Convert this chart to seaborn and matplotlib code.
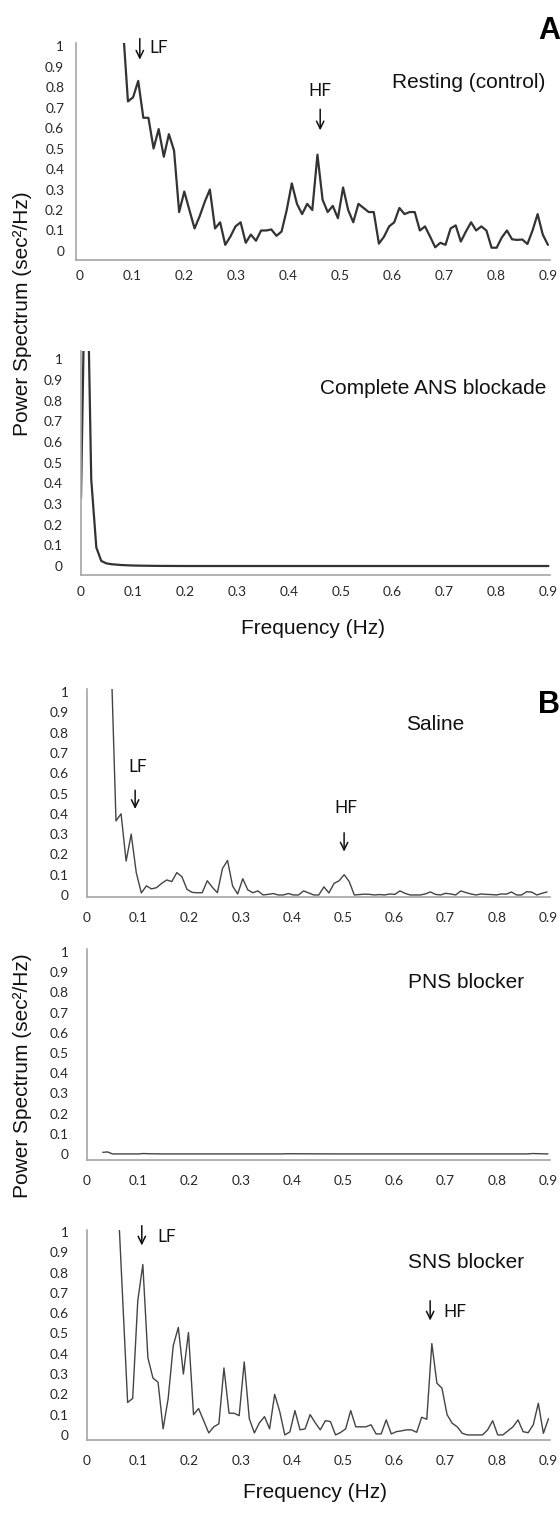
import numpy as np
import pandas as pd
import matplotlib
matplotlib.use('Agg')
import matplotlib.pyplot as plt
import seaborn as sns

# values (power, sec^2/Hz)
power_rest = [1.1, 0.73, 0.75, 0.83, 0.65, 0.65, 0.50, 0.595, 0.46, 0.57,
              0.49, 0.19, 0.29, 0.20, 0.11, 0.17, 0.24, 0.30, 0.11, 0.14,
              0.03, 0.07, 0.12, 0.14, 0.04, 0.08, 0.05, 0.10, 0.10, 0.105,
              0.074, 0.095, 0.2, 0.33, 0.23, 0.18, 0.23, 0.20, 0.47, 0.25,
              0.19, 0.22, 0.16, 0.31, 0.20, 0.14, 0.23, 0.21, 0.19, 0.19,
              0.036, 0.07, 0.12, 0.14, 0.21, 0.18, 0.19, 0.19, 0.10, 0.12,
              0.07, 0.018, 0.04, 0.03, 0.11, 0.125, 0.046, 0.095, 0.14, 0.10,
              0.12, 0.10, 0.016, 0.016, 0.066, 0.10, 0.057, 0.054, 0.056, 0.034,
              0.1, 0.18, 0.08, 0.03]
freq_rest = np.round(0.0824 + 0.00985 * np.arange(len(power_rest)), 4)

freq_ans = [0, 0.0098, 0.0197, 0.0295, 0.039, 0.049, 0.059, 0.069, 0.079, 0.089,
            0.098, 0.118, 0.15, 0.2, 0.3, 0.4, 0.5, 0.6, 0.7, 0.8, 0.9]
power_ans = [0.33, 1.8, 0.42, 0.09, 0.025, 0.013, 0.009, 0.007, 0.005, 0.004,
             0.003, 0.002, 0.001, 0.0005, 0.0005, 0.0005, 0.0005, 0.0005, 0.0005, 0.0005, 0.0005]

power_saline = [1.2, 0.365, 0.40, 0.167, 0.30, 0.11, 0.01, 0.045, 0.03, 0.036,
                0.057, 0.074, 0.066, 0.11, 0.09, 0.028, 0.013, 0.011, 0.011, 0.07,
                0.038, 0.011, 0.13, 0.17, 0.044, 0.005, 0.08, 0.025, 0.011, 0.02,
                0.0, 0.003, 0.007, 0.0, 0.0, 0.007, 0.0, 0.0, 0.02, 0.01,
                0.0, 0.0, 0.04, 0.01, 0.057, 0.07, 0.10, 0.066, 0.0, 0.002,
                0.004, 0.003, 0.0, 0.002, 0.0, 0.005, 0.003, 0.02, 0.008, 0.0,
                0.0, 0.0, 0.005, 0.015, 0.003, 0.0, 0.008, 0.005, 0.0, 0.02,
                0.012, 0.005, 0.0, 0.005, 0.003, 0.002, 0.0, 0.005, 0.004, 0.015,
                0.0, 0.0, 0.016, 0.014, 0.0, 0.008, 0.015]
freq_saline = np.round(0.0467 + 0.0099 * np.arange(len(power_saline)), 4)

freq_pns = [0.031, 0.04, 0.05, 0.06, 0.1, 0.11, 0.12, 0.15, 0.2, 0.38, 0.39, 0.5, 0.7, 0.86, 0.87, 0.9]
power_pns = [0.008, 0.01, 0.0, 0.0, 0.0, 0.002, 0.001, 0.0, 0.0, 0.0, 0.001, 0.0, 0.0, 0.0, 0.002, 0.0]

power_sns = [1.21, 0.685, 0.16, 0.18, 0.66, 0.84, 0.38, 0.28, 0.26, 0.03,
             0.18, 0.44, 0.53, 0.30, 0.505, 0.10, 0.13, 0.07, 0.01, 0.04,
             0.055, 0.33, 0.107, 0.107, 0.095, 0.36, 0.08, 0.01, 0.06, 0.09,
             0.03, 0.20, 0.115, 0.0, 0.015, 0.12, 0.025, 0.03, 0.10, 0.06,
             0.025, 0.07, 0.066, 0.0, 0.012, 0.03, 0.12, 0.04, 0.04, 0.04,
             0.05, 0.005, 0.005, 0.074, 0.005, 0.016, 0.02, 0.025, 0.025, 0.013,
             0.087, 0.077, 0.45, 0.255, 0.23, 0.10, 0.058, 0.04, 0.008, 0.0,
             0.0, 0.0, 0.0, 0.025, 0.07, 0.0, 0.0, 0.02, 0.04, 0.074,
             0.016, 0.011, 0.05, 0.156, 0.008, 0.08]
freq_sns = np.round(0.0595 + 0.0099 * np.arange(len(power_sns)), 4)

x_ticks = [0, 0.1, 0.2, 0.3, 0.4, 0.5, 0.6, 0.7, 0.8, 0.9]
x_labels = ['0', '0.1', '0.2', '0.3', '0.4', '0.5', '0.6', '0.7', '0.8', '0.9']
y_ticks = [0, 0.1, 0.2, 0.3, 0.4, 0.5, 0.6, 0.7, 0.8, 0.9, 1]
y_labels = ['0', '0.1', '0.2', '0.3', '0.4', '0.5', '0.6', '0.7', '0.8', '0.9', '1']

sns.set_theme(style='white')
plt.rcParams['font.family'] = ['Liberation Sans', 'DejaVu Sans']

W, H = 560, 1513
fig = plt.figure(figsize=(W / 100, H / 100), dpi=100)
fig.patch.set_facecolor('white')


def make_ax(left, top, right, bottom):
    return fig.add_axes([left / W, 1 - bottom / H, (right - left) / W, (bottom - top) / H])


def style_ax(ax, xlim, ylim, ypad, xpad):
    ax.set_xlim(*xlim)
    ax.set_ylim(*ylim)
    ax.set_xticks(x_ticks)
    ax.set_xticklabels(x_labels)
    ax.set_yticks(y_ticks)
    ax.set_yticklabels(y_labels)
    ax.set_xlabel('')
    ax.set_ylabel('')
    for s in ['top', 'right']:
        ax.spines[s].set_visible(False)
    for s in ['left', 'bottom']:
        ax.spines[s].set_color('#a6a6a6')
        ax.spines[s].set_linewidth(1.2)
    ax.tick_params(axis='y', length=0, pad=ypad, labelsize=9.8, labelcolor='#262626')
    ax.tick_params(axis='x', length=0, pad=xpad, labelsize=9.8, labelcolor='#262626')
    for lab in ax.get_xticklabels() + ax.get_yticklabels():
        lab.set_fontfamily('Lato')
    ax.set_facecolor('white')
    if ax.get_legend() is not None:
        ax.get_legend().remove()


def arrow(ax, x, y0, y1):
    ax.annotate('', xy=(x, y1), xytext=(x, y0), annotation_clip=False,
                arrowprops=dict(arrowstyle='->,head_length=0.45,head_width=0.22', color='#111111', lw=1.1))


def note(ax, x, y, s):
    ax.text(x, y, s, fontsize=12.5, family='Lato', color='#111111', ha='center', va='center', clip_on=False)


# ---- panel A, top: resting
ax1 = make_ax(76, 43, 550, 260)
sns.lineplot(x=freq_rest, y=power_rest, ax=ax1, color='#333333', linewidth=1.6)
style_ax(ax1, (-0.0077, 0.904), (-0.044, 1.015), 8.5, 7)
ax1.text(0.896, 0.82, 'Resting (control)', fontsize=15, ha='right', va='center', color='#111111')
arrow(ax1, 0.115, 1.05, 0.92)
note(ax1, 0.152, 0.99, 'LF')
note(ax1, 0.462, 0.78, 'HF')
arrow(ax1, 0.462, 0.705, 0.575)

# ---- panel A, bottom: complete ANS blockade
ax2 = make_ax(81, 351, 550, 575)
sns.lineplot(x=freq_ans, y=power_ans, ax=ax2, color='#333333', linewidth=1.6)
style_ax(ax2, (0, 0.903), (-0.043, 1.04), 13, 8)
ax2.text(0.896, 0.86, 'Complete ANS blockade', fontsize=15, ha='right', va='center', color='#111111')

# ---- panel B, saline
ax3 = make_ax(87, 689, 550, 897)
sns.lineplot(x=freq_saline, y=power_saline, ax=ax3, color='#444444', linewidth=1.0)
style_ax(ax3, (0, 0.904), (-0.01, 1.015), 13, 11)
ax3.text(0.68, 0.84, 'Saline', fontsize=15, ha='center', va='center', color='#111111')
note(ax3, 0.098, 0.63, 'LF')
arrow(ax3, 0.094, 0.53, 0.41)
note(ax3, 0.506, 0.43, 'HF')
arrow(ax3, 0.502, 0.32, 0.20)

# ---- panel B, PNS blocker
ax4 = make_ax(87, 949, 550, 1160)
sns.lineplot(x=freq_pns, y=power_pns, ax=ax4, color='#444444', linewidth=1.0)
style_ax(ax4, (0, 0.904), (-0.03, 1.015), 13, 11)
ax4.text(0.74, 0.85, 'PNS blocker', fontsize=15, ha='center', va='center', color='#111111')

# ---- panel B, SNS blocker
ax5 = make_ax(87, 1230, 550, 1440)
sns.lineplot(x=freq_sns, y=power_sns, ax=ax5, color='#444444', linewidth=1.0)
style_ax(ax5, (0, 0.904), (-0.025, 1.01), 13, 11)
ax5.text(0.74, 0.85, 'SNS blocker', fontsize=15, ha='center', va='center', color='#111111')
arrow(ax5, 0.107, 1.045, 0.92)
note(ax5, 0.155, 0.975, 'LF')
arrow(ax5, 0.67, 0.675, 0.55)
note(ax5, 0.718, 0.606, 'HF')

# shared labels / panel letters
def ftext(x, y, s, **kw):
    fig.text(x / W, 1 - y / H, s, **kw)

ftext(23, 314, 'Power Spectrum (sec²/Hz)', rotation=90, fontsize=15, ha='center', va='center', color='#111111')
ftext(23, 1076, 'Power Spectrum (sec²/Hz)', rotation=90, fontsize=15, ha='center', va='center', color='#111111')
ftext(313, 629, 'Frequency (Hz)', fontsize=15, ha='center', va='center', color='#111111')
ftext(315, 1493, 'Frequency (Hz)', fontsize=15, ha='center', va='center', color='#111111')
ftext(560, 31, 'A', fontsize=22, fontweight='bold', ha='right', va='center', color='black')
ftext(560, 705, 'B', fontsize=22, fontweight='bold', ha='right', va='center', color='black')

fig.savefig('out.png', dpi=100, facecolor='white')
